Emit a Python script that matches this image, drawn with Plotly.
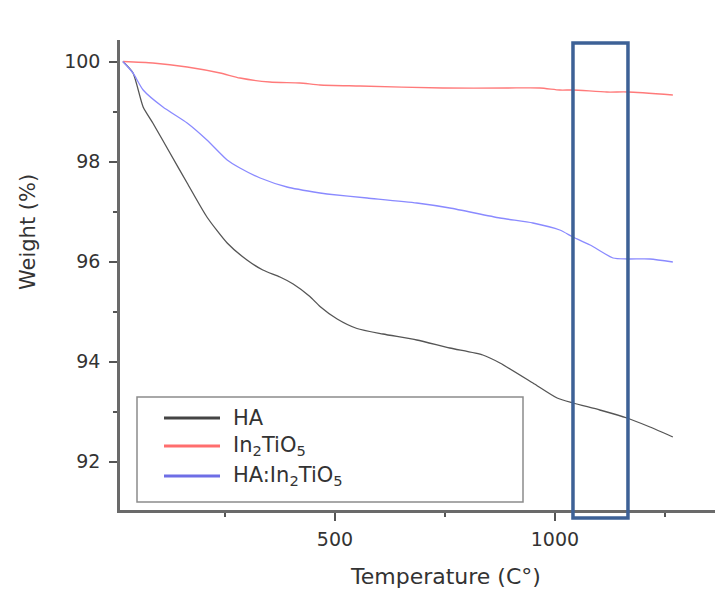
import plotly.graph_objects as go

# ---- data ----
ha_temp = [18, 41, 64, 86, 125, 164, 209, 255, 300, 336, 375, 405, 443, 466, 505, 550, 609, 686, 761, 836, 875, 950, 1005, 1041, 1102, 1164, 1216, 1268]
ha_weight = [100.0, 99.77, 99.09, 98.77, 98.17, 97.57, 96.89, 96.37, 96.03, 95.83, 95.69, 95.55, 95.30, 95.10, 94.85, 94.66, 94.55, 94.43, 94.27, 94.13, 93.97, 93.57, 93.27, 93.17, 93.03, 92.87, 92.69, 92.49]

ito_temp = [18, 86, 164, 239, 284, 352, 420, 466, 557, 745, 891, 966, 1011, 1041, 1118, 1166, 1268]
ito_weight = [100.0, 99.97, 99.89, 99.77, 99.67, 99.59, 99.57, 99.53, 99.51, 99.47, 99.47, 99.47, 99.43, 99.43, 99.39, 99.39, 99.33]

mix_temp = [18, 41, 64, 109, 164, 209, 255, 284, 330, 391, 466, 482, 573, 686, 761, 875, 950, 1011, 1041, 1080, 1132, 1164, 1216, 1268]
mix_weight = [100.0, 99.77, 99.43, 99.09, 98.77, 98.43, 98.03, 97.87, 97.67, 97.49, 97.37, 97.35, 97.27, 97.17, 97.07, 96.87, 96.77, 96.63, 96.49, 96.33, 96.07, 96.05, 96.05, 95.99]

series_names = ["HA", "In<sub>2</sub>TiO<sub>5</sub>", "HA:In<sub>2</sub>TiO<sub>5</sub>"]
line_colors = ["#555555", "#ff7a7a", "#8a8aff"]
legend_colors = ["#444444", "#ff6e6e", "#6e6ee6"]

highlight_range = [1041, 1166]

x_range = [11.4, 1382]
y_range = [91.03, 100.43]

FONT = "DejaVu Sans, Arial, sans-serif"

fig = go.Figure()
for t, w, name, col in zip([ha_temp, ito_temp, mix_temp],
                           [ha_weight, ito_weight, mix_weight],
                           series_names, line_colors):
    fig.add_trace(go.Scatter(x=t, y=w, mode="lines", name=name,
                             line=dict(color=col, width=1.3, shape="spline", smoothing=0.6),
                             showlegend=False))

# plot area in window pixels: x 120..723, y 40..510 (page body adds 8px offset)
def px_x(p):
    return (p - 120) / 603.0

def px_y(p):
    return (510 - p) / 470.0

shapes = []
annotations = []

# highlight box
shapes.append(dict(type="rect", xref="x", yref="paper",
                   x0=highlight_range[0], x1=highlight_range[1],
                   y0=px_y(518), y1=px_y(43),
                   line=dict(color="#3d6196", width=3.5), fillcolor="rgba(0,0,0,0)"))

# manual legend
shapes.append(dict(type="rect", xref="paper", yref="paper",
                   x0=px_x(137), x1=px_x(523), y0=px_y(502), y1=px_y(397),
                   line=dict(color="#8c8c8c", width=1.5), fillcolor="white", layer="above"))
rows = [418, 446, 476]
for name, col, r in zip(series_names, legend_colors, rows):
    shapes.append(dict(type="line", xref="paper", yref="paper",
                       x0=px_x(164), x1=px_x(220), y0=px_y(r), y1=px_y(r),
                       line=dict(color=col, width=3)))
    annotations.append(dict(xref="paper", yref="paper", x=px_x(231), y=px_y(r),
                            text=name, showarrow=False, xanchor="left", yanchor="middle",
                            font=dict(family=FONT, size=21, color="#333333")))

# axis titles
annotations.append(dict(xref="paper", yref="paper", x=px_x(445), y=px_y(576),
                        text="Temperature (C°)", showarrow=False,
                        xanchor="center", yanchor="middle",
                        font=dict(family=FONT, size=22, color="#333333")))
annotations.append(dict(xref="paper", yref="paper", x=px_x(28), y=px_y(232),
                        text="Weight (%)", showarrow=False, textangle=-90,
                        xanchor="center", yanchor="middle",
                        font=dict(family=FONT, size=21, color="#333333")))

fig.update_layout(
    width=723, height=593,
    margin=dict(l=112, r=8, t=32, b=91),
    paper_bgcolor="white", plot_bgcolor="white",
    shapes=shapes, annotations=annotations,
    font=dict(family=FONT, size=19, color="#333333"),
)
fig.update_xaxes(range=x_range, showgrid=False, zeroline=False,
                 showline=True, linecolor="#6a6a6a", linewidth=2.5,
                 ticks="outside", ticklen=8, tickwidth=1.5, tickcolor="#555555",
                 tick0=0, dtick=500, ticklabelstandoff=2,
                 tickfont=dict(family=FONT, size=19, color="#333333"),
                 minor=dict(ticks="outside", ticklen=4, tickwidth=1.5, tickcolor="#555555",
                            tick0=0, dtick=250, showgrid=False))
fig.update_yaxes(range=y_range, showgrid=False, zeroline=False,
                 showline=True, linecolor="#6a6a6a", linewidth=2.5,
                 ticks="outside", ticklen=8, tickwidth=1.5, tickcolor="#555555",
                 tick0=0, dtick=2, ticklabelstandoff=5,
                 tickfont=dict(family=FONT, size=19, color="#333333"),
                 minor=dict(ticks="outside", ticklen=4, tickwidth=1.5, tickcolor="#555555",
                            tick0=0, dtick=1, showgrid=False))

fig.write_html("out.html")
